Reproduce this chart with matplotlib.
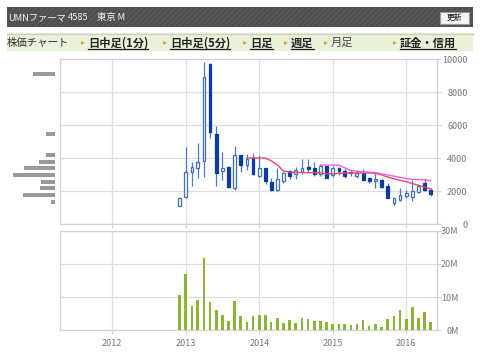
import matplotlib
matplotlib.use("Agg")
import matplotlib.pyplot as plt
import matplotlib.dates as mdates
from matplotlib.patches import Rectangle
from matplotlib.lines import Line2D
import numpy as np
import pandas as pd

plt.rcParams['font.family'] = ['Noto Sans CJK JP', 'DejaVu Sans']

# monthly candles, Dec 2012 .. May 2016
months = pd.date_range('2012-12-01', periods=42, freq='MS')
opens = [1130, 1670, 3190, 3430, 3840, 9720, 5490, 3230, 3490, 2180, 4200, 3590, 4040, 2950,
         3390, 2580, 2080, 2620, 3230, 3030, 3150, 3490, 3390, 3030, 3520, 2990, 3390, 3250,
         3100, 2950, 3090, 2790, 2650, 2690, 2320, 1270, 1470, 1720, 1670, 1940, 2520, 2080]
closes = [1580, 3150, 3490, 3760, 8950, 5580, 3090, 3390, 2240, 4200, 3590, 3960, 3030, 3390,
          2620, 2080, 2730, 3090, 2950, 3290, 3430, 3330, 3030, 3530, 2830, 3430, 3230, 2950,
          3190, 3090, 2690, 2620, 2720, 2240, 1610, 1580, 1780, 1910, 2020, 2320, 2080, 1820]
highs = [1650, 4670, 3760, 4950, 9850, 9800, 5960, 4400, 3520, 4760, 4230, 4240, 4300, 4200,
         3420, 2820, 3390, 3190, 3290, 3490, 3940, 3960, 3790, 3640, 3550, 3530, 3450, 3390,
         3330, 3290, 3330, 2880, 3150, 2720, 2490, 1670, 2180, 2080, 2690, 2420, 2790, 2220]
lows = [1100, 1610, 2320, 2820, 2880, 5210, 2340, 2690, 2220, 2080, 3150, 3290, 2990, 2880,
        2420, 2020, 2020, 2480, 2760, 2750, 3030, 3190, 2950, 2950, 2780, 2880, 2990, 2820,
        2930, 2790, 2620, 2480, 2180, 2210, 1580, 1170, 1430, 1610, 1430, 1880, 2020, 1730]
volume_m = [10.7, 17.1, 7.2, 9.0, 21.7, 8.6, 6.2, 4.5, 2.8, 8.8, 4.3, 2.6, 4.2, 4.6, 4.5,
            2.5, 3.8, 2.2, 3.0, 2.2, 3.8, 3.4, 2.8, 2.8, 2.4, 2.0, 1.8, 2.0, 1.6, 2.0, 3.1,
            1.4, 2.0, 1.1, 3.4, 4.3, 6.0, 3.4, 6.9, 3.8, 5.4, 2.6]

# moving averages (12 and 24 months) as drawn
ma12 = [4020, 4020, 4020, 4010, 3850, 3600, 3230, 3160, 3150, 3140, 3130, 3130, 3120, 3060,
        3060, 3090, 3110, 3110, 3110, 3110, 3110, 3090, 2990, 2870, 2760, 2670, 2580, 2470,
        2360, 2260, 2150]
ma24 = [3580, 3590, 3590, 3580, 3430, 3260, 3210, 3180, 3160, 3140, 3060, 2990, 2920, 2850,
        2770, 2720, 2710, 2700, 2640]

# volume by price band (left histogram)
band_price = [1380, 1760, 2180, 2580, 3000, 3400, 3780, 4200, 5450, 9100]
band_vol = [4, 32, 15, 14, 42, 31, 16, 9, 9, 22]

price_ticks = [0, 2000, 4000, 6000, 8000, 10000]
vol_ticks = [0, 10, 20, 30]
vol_labels = ['0M', '10M', '20M', '30M']

W, H = 480, 352
fig = plt.figure(figsize=(W / 100, H / 100), dpi=100)

def fx(px):
    return px / W

def fy(py):
    return 1 - py / H

# header bar
fig.patches.append(Rectangle((fx(7), fy(27)), fx(466), 20 / H, transform=fig.transFigure,
                             facecolor='#4e4e4e', edgecolor='#5a5a5a', hatch='//////', lw=0))
for x0, s in [(8, 'UMNファーマ'), (68, '4585'), (97, '東京 M')]:
    fig.text(fx(x0), fy(17.5), s, color='#f2f2f2', fontsize=6.7, va='center', ha='left')
fig.patches.append(Rectangle((fx(440), fy(24)), fx(29), 12 / H, transform=fig.transFigure,
                             facecolor='#f4f4f4', edgecolor='#999999', lw=0.8))
fig.text(fx(454.5), fy(18), '更新', color='#111111', fontsize=5.6, va='center', ha='center')

# menu bar
fig.patches.append(Rectangle((fx(7), fy(51)), fx(466), 18 / H, transform=fig.transFigure,
                             facecolor='#e8f2da', edgecolor='none'))
fig.lines.append(Line2D([fx(7), fx(473)], [fy(33.5), fy(33.5)], transform=fig.transFigure,
                        color='#c6d6b4', lw=1))
fig.text(fx(7), fy(43), '株価チャート', color='#333333', fontsize=7.5, va='center')
menu = [(81, '日中足(1分)', True), (163, '日中足(5分)', True), (243, '日足', True),
        (284, '週足', True), (324, '月足', False), (393, '証金・信用', True)]
underline = []
for x0, label, link in menu:
    fig.text(fx(x0), fy(42.5), '▸', color='#f0a020', fontsize=5.5, va='center')
    t = fig.text(fx(x0 + 7), fy(43), label, color='#222222' if link else '#444444',
                 fontsize=8.1, fontweight='bold' if link else 'normal', va='center')
    if link:
        underline.append(t)

# axes
main_top, main_bot = 59.3, 224.3
vol_top, vol_bot = 230.7, 330.3
left, right = 60, 437
ax = fig.add_axes([fx(left), fy(main_bot), fx(right - left), (main_bot - main_top) / H])
axv = fig.add_axes([fx(left), fy(vol_bot), fx(right - left), (vol_bot - vol_top) / H])
axh = fig.add_axes([fx(5), fy(main_bot), fx(50), (main_bot - main_top) / H])

xmin, xmax = pd.Timestamp('2011-04-17'), pd.Timestamp('2016-06-02')
grid_c = '#dedede'
for a, ypad in ((ax, 19), (axv, 12.5)):
    a.set_xlim(xmin, xmax)
    a.xaxis.set_major_locator(mdates.YearLocator())
    a.xaxis.set_major_formatter(mdates.DateFormatter('%Y'))
    a.grid(True, color=grid_c, lw=0.9)
    a.set_axisbelow(True)
    for s in a.spines.values():
        s.set_color('#d2d2d2')
        s.set_linewidth(0.9)
    a.yaxis.tick_right()
    a.tick_params(axis='y', colors='#d2d2d2', labelcolor='#777777', labelsize=6.5,
                  length=3, width=0.8, pad=ypad)
    a.tick_params(axis='x', colors='#d2d2d2', labelcolor='#777777', labelsize=6.5,
                  length=3, width=0.8, pad=3)

# candles
wick_c = '#4c7ccc'
up_face, up_edge = '#ffffc4', '#3f6fc6'
dn_face = '#0b3c9e'
ax.vlines(months, lows, highs, color=wick_c, lw=0.9, zorder=2)
o = np.array(opens)
c = np.array(closes)
up = c >= o
bot = np.minimum(o, c)
ht = np.maximum(np.abs(c - o), 40)
ax.bar(months[up], ht[up], bottom=bot[up], width=14, color=up_face, edgecolor=up_edge,
       lw=0.9, zorder=3)
ax.bar(months[~up], ht[~up], bottom=bot[~up], width=14, color=dn_face, edgecolor=dn_face,
       lw=0.9, zorder=3)
ax.plot(months[11:], ma12, color='#e4486e', lw=1, zorder=4)
ax.plot(months[23:], ma24, color='#e860f0', lw=1, zorder=4)
ax.set_ylim(0, 10000)
ax.set_yticks(price_ticks)
ax.tick_params(axis='x', labelbottom=False)

# volume
axv.bar(months, volume_m, width=13, color='#8cb43a', zorder=3)
axv.set_ylim(0, 30)
axv.set_yticks(vol_ticks)
axv.set_yticklabels(vol_labels)

for a in (ax, axv):
    for lab in a.get_yticklabels():
        lab.set_horizontalalignment('right')

# price-band histogram
axh.barh(band_price, band_vol, height=240, color='#999999')
axh.set_ylim(0, 10000)
axh.set_xlim(50, 0)
axh.axis('off')

# underline menu links
fig.canvas.draw()
r = fig.canvas.get_renderer()
for t in underline:
    bb = t.get_window_extent(r)
    y = bb.y0 + 0.5
    fig.lines.append(Line2D([bb.x0 / W, bb.x1 / W], [y / H, y / H], transform=fig.transFigure,
                            color='#222222', lw=0.9))

fig.savefig('out.png', dpi=100)
